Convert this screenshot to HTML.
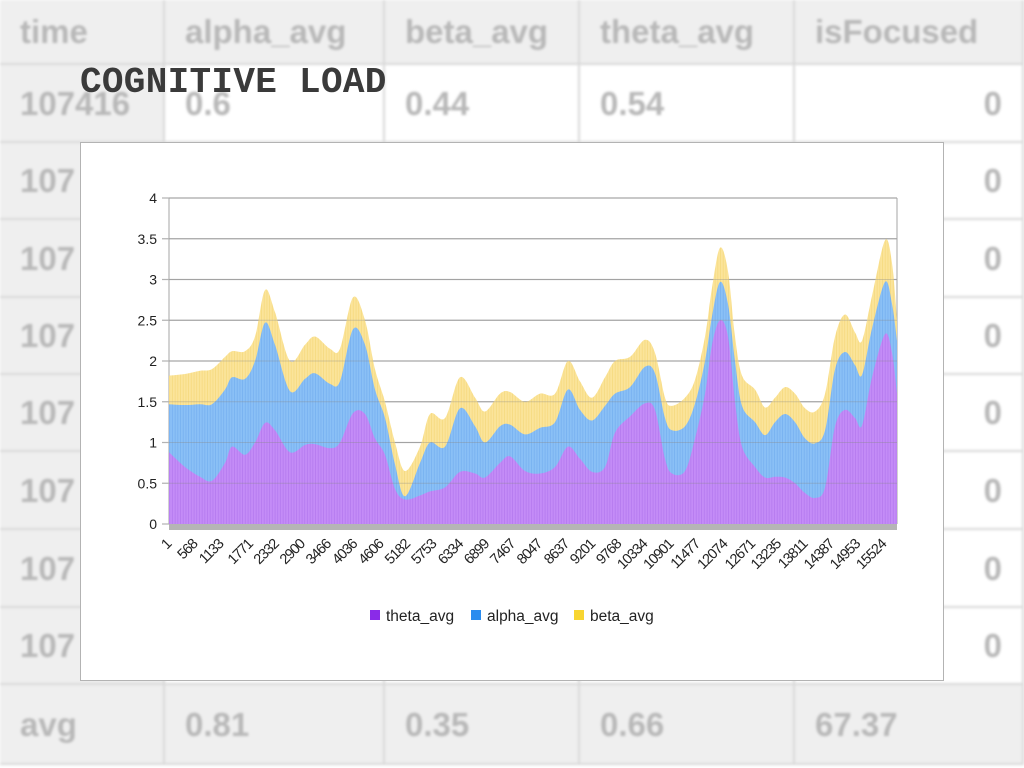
<!DOCTYPE html>
<html><head><meta charset="utf-8">
<style>
body{margin:0;width:1024px;height:768px;overflow:hidden;background:#fff;font-family:"Liberation Sans",sans-serif;position:relative}
#sheet{position:absolute;left:0;top:0;width:1024px;height:768px;filter:blur(1.2px)}
.cell{position:absolute;box-sizing:border-box;border-right:2px solid #d8d8d8;border-bottom:2px solid #d8d8d8;color:#b8b8b8;font-size:33px;font-weight:bold;line-height:1;padding:0 20px;display:flex;align-items:center}
.g{background:#efefef}
.r{justify-content:flex-end}
#title{position:absolute;left:80px;top:62px;font-family:"Liberation Mono",monospace;font-weight:bold;font-size:36px;color:#3a3a3a;letter-spacing:0.3px}
#chart{position:absolute;left:80px;top:142px;width:864px;height:539px;background:#fff;border:1px solid #b3b3b3;box-sizing:border-box}
svg{position:absolute;left:0;top:0}
</style></head>
<body>
<div id="sheet"></div>
<div id="title">COGNITIVE LOAD</div>
<div id="chart"></div>
<svg id="svg" width="1024" height="768"></svg>
<script>
const records=[1,283,609,869,1152,1304,1586,1803,2020,2237,2563,2888,3106,3431,3648,3931,4191,4408,4625,4843,5060,5386,5603,5929,6254,6580,6797,7123,7340,7666,7991,8317,8598,8859,9119,9402,9619,9944,10270,10487,10704,10856,11139,11356,11573,11725,11899,12072,12224,12376,12659,12876,13093,13310,13527,13744,13962,14179,14396,14613,14830,14982,15199,15481,15633,15741];
const theta=[.88,.70,.58,.53,.75,.95,.85,1.0,1.24,1.15,.88,.97,.98,.93,1.0,1.36,1.35,1.05,.85,.43,.30,.35,.40,.45,.64,.62,.57,.75,.83,.65,.62,.70,.95,.80,.64,.70,1.12,1.32,1.48,1.40,.80,.62,.65,1.05,1.6,2.2,2.5,2.3,1.5,.95,.70,.57,.58,.57,.50,.38,.32,.45,1.2,1.4,1.3,1.21,1.8,2.33,2.1,1.6];
const alpha=[.59,.76,.89,.94,.90,.85,.93,1.0,1.23,1.05,.75,.81,.87,.79,.75,1.03,.85,.60,.45,.30,.04,.40,.60,.50,.78,.58,.43,.45,.39,.45,.56,.55,.70,.60,.63,.75,.48,.36,.45,.45,.50,.53,.55,.43,.40,.35,.47,.40,.50,.50,.55,.52,.67,.78,.75,.67,.67,.70,.70,.71,.65,.62,.60,.64,.60,.65];
const beta=[.35,.38,.41,.43,.40,.32,.34,.30,.40,.40,.37,.42,.45,.43,.40,.39,.30,.25,.20,.27,.31,.20,.35,.35,.38,.35,.38,.40,.40,.40,.42,.35,.35,.35,.28,.35,.40,.37,.33,.25,.25,.30,.35,.29,.30,.35,.42,.40,.30,.37,.40,.34,.30,.33,.35,.37,.39,.45,.40,.46,.40,.42,.40,.51,.50,.25];
const xTickLabels=["1","568","1133","1771","2332","2900","3466","4036","4606","5182","5753","6334","6899","7467","8047","8637","9201","9768","10334","10901","11477","12074","12671","13235","13811","14387","14953","15524"];
const yTickLabels=["0","0.5","1","1.5","2","2.5","3","3.5","4"];
const yTicks=[0,0.5,1,1.5,2,2.5,3,3.5,4];
const seriesNames=["theta_avg","alpha_avg","beta_avg"];

const sheet=document.getElementById('sheet');
const cols=[0,165,385,580,795,1024];
const rows=[0,65,143,220,298,375,452,530,608,685,765];
const table=[["time","alpha_avg","beta_avg","theta_avg","isFocused"],["107416","0.6","0.44","0.54","0"],["107","","","","0"],["107","","","","0"],["107","","","","0"],["107","","","","0"],["107","","","","0"],["107","","","","0"],["107","","","","0"],["avg","0.81","0.35","0.66","67.37"]];
for(let r=0;r<table.length;r++)for(let c=0;c<5;c++){
 const d=document.createElement('div');
 
 
 d.className='cell'+((r==0||c==0||r==9)?' g':'')+((c==4&&r>0&&r<9)?' r':'');
 d.style.left=cols[c]+'px';d.style.top=rows[r]+'px';
 d.style.width=(cols[c+1]-cols[c])+'px';d.style.height=(rows[r+1]-rows[r])+'px';
 d.textContent=table[r][c];sheet.appendChild(d);
}

const NS='http://www.w3.org/2000/svg';
const svg=document.getElementById('svg');
function el(t,a,p){const e=document.createElementNS(NS,t);for(const k in a)e.setAttribute(k,a[k]);(p||svg).appendChild(e);return e;}
const X0=172,X1=897,PL=169,Y0=524,Y1=198;
const xs=r=>X0+(r-1)/(15741-1)*(X1-X0);
const ys=v=>Y0-v/4*(Y0-Y1);

const defs=el('defs',{});
const fills=[["#c48cf7","#b277ee"],["#8ac0f6","#74aeef"],["#fbe49a","#f5d87c"]];
fills.forEach((f,i)=>{
 const p=el('pattern',{id:'p'+i,width:2.7,height:10,patternUnits:'userSpaceOnUse'},defs);
 el('rect',{width:2.7,height:10,fill:f[0]},p);
 el('rect',{x:2,width:0.7,height:10,fill:f[1]},p);
});
yTicks.forEach((v,i)=>{
 const g=el('line',{x1:162,x2:X1,y1:ys(v),y2:ys(v),stroke:'#b3b3b3','stroke-width':1.2});
 
 
 const t=el('text',{x:157,y:ys(v)+5,'text-anchor':'end','font-size':14,fill:'#222'});
 
 
 t.textContent=yTickLabels[i];
});
el('line',{x1:PL,x2:PL,y1:Y1,y2:Y0,stroke:'#b3b3b3','stroke-width':1.2});
el('line',{x1:X1,x2:X1,y1:Y1,y2:Y0,stroke:'#b3b3b3','stroke-width':1.2});
const cum=[[],[],[]];
for(let i=0;i<records.length;i++){cum[0][i]=theta[i];cum[1][i]=theta[i]+alpha[i];cum[2][i]=theta[i]+alpha[i]+beta[i];}
function curve(arr){
 const pts=records.map((r,i)=>[xs(r),ys(arr[i])]);
 pts[0][0]=PL;
 let d='M'+pts[0][0]+','+pts[0][1];
 for(let i=0;i<pts.length-1;i++){
  const p0=pts[Math.max(0,i-1)],p1=pts[i],p2=pts[i+1],p3=pts[Math.min(pts.length-1,i+2)];
  const c1=[p1[0]+(p2[0]-p0[0])/6,p1[1]+(p2[1]-p0[1])/6],c2=[p2[0]-(p3[0]-p1[0])/6,p2[1]-(p3[1]-p1[1])/6];
  d+=' C'+c1[0]+','+c1[1]+' '+c2[0]+','+c2[1]+' '+p2[0]+','+p2[1];
 }
 return d;
}
const names=['beta-area','alpha-area','theta-area'];
[2,1,0].forEach((s,k)=>{
 const a=el('path',{d:curve(cum[s])+' L'+X1+','+Y0+' L'+PL+','+Y0+' Z',fill:'url(#p'+s+')'});
 
 
});
yTicks.slice(1).forEach(v=>{el('line',{x1:PL,x2:X1,y1:ys(v),y2:ys(v),stroke:'#888','stroke-width':1,opacity:0.35});});
const band=el('rect',{x:PL,y:Y0,width:X1-PL,height:6,fill:'#b5b5b5'});


xTickLabels.forEach(l=>{
 const x=xs(+l);
 const t=el('text',{x:x,y:545,'text-anchor':'end','font-size':14.5,fill:'#222','letter-spacing':'-1',transform:'rotate(-45 '+x+' 545)'});
 
 
 t.textContent=l;
});
const lc=['#8a2be8','#2a8cef','#f8d531'];
const lx=[370,471,574];
seriesNames.forEach((n,i)=>{
 const g=el('g',{});
 
 
 el('rect',{x:lx[i],y:610,width:10,height:10,fill:lc[i]},g);
 const t=el('text',{x:lx[i]+16,y:621,'font-size':15.5,fill:'#222'},g);
 t.textContent=n;
});
</script>
</body></html>
